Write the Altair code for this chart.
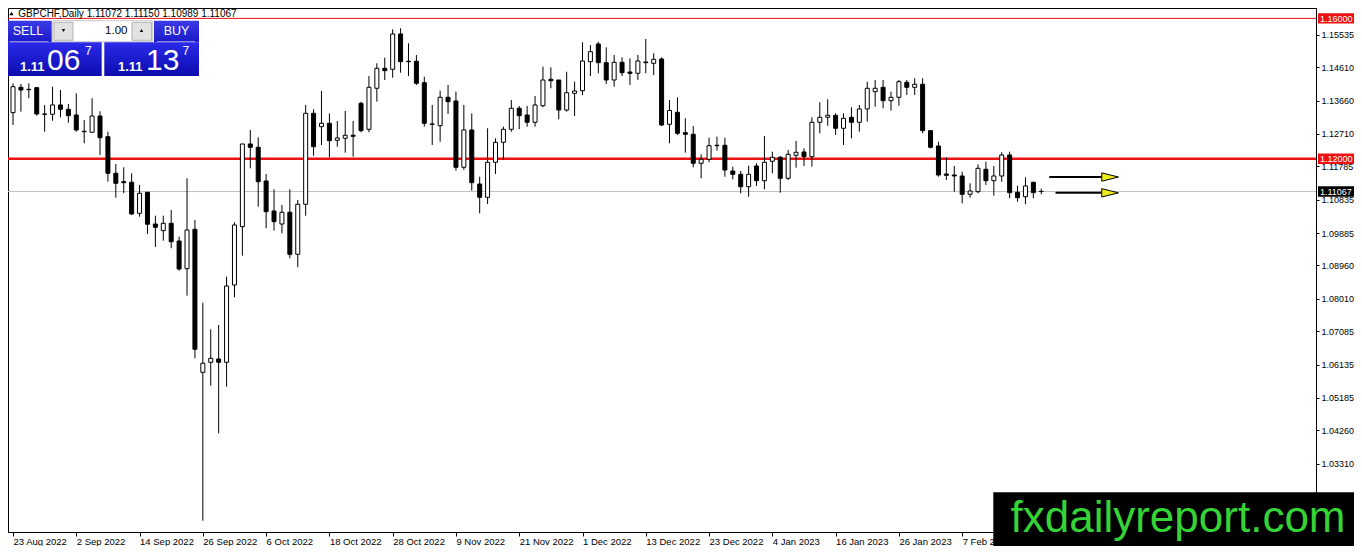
import altair as alt
import pandas as pd

# ---------------- data ----------------
DATE_LABELS = ["23 Aug 2022", "2 Sep 2022", "14 Sep 2022", "26 Sep 2022", "6 Oct 2022",
               "18 Oct 2022", "28 Oct 2022", "9 Nov 2022", "21 Nov 2022", "1 Dec 2022",
               "13 Dec 2022", "23 Dec 2022", "4 Jan 2023", "16 Jan 2023", "26 Jan 2023",
               "7 Feb 2023"]
TICK_BARS = [0, 8, 16, 24, 32, 40, 48, 56, 64, 72, 80, 88, 96, 104, 112, 120]
PRICE_TICKS = [1.15535, 1.14610, 1.13660, 1.12710, 1.11785, 1.10835, 1.09885, 1.08960,
               1.08010, 1.07085, 1.06135, 1.05185, 1.04260, 1.03310]

OPEN = [1.13313, 1.14037, 1.13980, 1.14026, 1.13276, 1.13268, 1.13533, 1.13410, 1.13248, 1.12783,
        1.12755, 1.13219, 1.12630, 1.11587, 1.11348, 1.11330, 1.10447, 1.11046, 1.10142, 1.09952,
        1.10162, 1.09658, 1.08869, 1.09991, 1.05917, 1.06202, 1.06296, 1.06202, 1.08405, 1.10066,
        1.12422, 1.12328, 1.11368, 1.10513, 1.10142, 1.10476, 1.09279, 1.10704, 1.13296, 1.12915,
        1.13011, 1.12527, 1.12584, 1.12670, 1.13581, 1.12840, 1.14009, 1.14578, 1.14550, 1.15556,
        1.14778, 1.14778, 1.14168, 1.12991, 1.12943, 1.13752, 1.13647, 1.11758, 1.12821, 1.11282,
        1.10903, 1.11900, 1.12470, 1.12840, 1.13439, 1.13248, 1.13040, 1.13513, 1.14265, 1.14245,
        1.13390, 1.13866, 1.13940, 1.14766, 1.15271, 1.14738, 1.14245, 1.14749, 1.14473, 1.14436,
        1.14758, 1.14721, 1.14843, 1.12983, 1.13325, 1.12744, 1.12698, 1.11872, 1.11986, 1.12385,
        1.12385, 1.11652, 1.11558, 1.11205, 1.11795, 1.11376, 1.11929, 1.12043, 1.11444, 1.12100,
        1.12194, 1.12060, 1.13040, 1.13182, 1.13239, 1.12869, 1.13182, 1.13040, 1.13419, 1.13912,
        1.14037, 1.13655, 1.13752, 1.14179, 1.14037, 1.14123, 1.12801, 1.12365, 1.11567, 1.11538,
        1.11510, 1.10989, 1.11063, 1.11701, 1.11376, 1.11510, 1.12108, 1.11046, 1.10920, 1.11330,
        1.11072]
HIGH = [1.14151, 1.14131, 1.14151, 1.14046, 1.13533, 1.14054, 1.13960, 1.13561, 1.13866, 1.13105,
        1.13724, 1.13353, 1.12772, 1.11852, 1.11758, 1.11587, 1.11254, 1.11046, 1.10379, 1.10379,
        1.10541, 1.09781, 1.11444, 1.10256, 1.07900, 1.07142, 1.07265, 1.08641, 1.10191, 1.12422,
        1.12821, 1.12613, 1.11567, 1.11131, 1.10684, 1.11131, 1.10826, 1.13533, 1.13410, 1.13932,
        1.13296, 1.13077, 1.13362, 1.13077, 1.13627, 1.14359, 1.14721, 1.14880, 1.15689, 1.15718,
        1.15291, 1.14957, 1.14339, 1.13533, 1.13940, 1.14103, 1.13912, 1.13533, 1.13296, 1.11490,
        1.12869, 1.12584, 1.12915, 1.13675, 1.13504, 1.13504, 1.13789, 1.14624, 1.14607, 1.14245,
        1.14481, 1.14197, 1.15319, 1.15242, 1.15336, 1.15177, 1.14957, 1.14892, 1.14863, 1.14957,
        1.15413, 1.15006, 1.14892, 1.13675, 1.13752, 1.13154, 1.12934, 1.12128, 1.12601, 1.12630,
        1.12601, 1.11775, 1.11652, 1.11803, 1.11872, 1.12650, 1.12202, 1.12080, 1.12251, 1.12507,
        1.12299, 1.13182, 1.13610, 1.13695, 1.13296, 1.13296, 1.13467, 1.13533, 1.14197, 1.14245,
        1.14245, 1.13912, 1.14245, 1.14245, 1.14293, 1.14293, 1.12801, 1.12487, 1.12043, 1.11795,
        1.11632, 1.11302, 1.11843, 1.11917, 1.11795, 1.12185, 1.12202, 1.11234, 1.11473, 1.11348,
        1.11150]
LOW = [1.12963, 1.13342, 1.13724, 1.13228, 1.12772, 1.13085, 1.13182, 1.13028, 1.12772, 1.12442,
       1.12750, 1.12108, 1.11348, 1.10892, 1.11017, 1.10399, 1.10350, 1.09858, 1.09487, 1.09667,
       1.09450, 1.08812, 1.08100, 1.06316, 1.01689, 1.05536, 1.04179, 1.05507, 1.08054, 1.09239,
       1.11729, 1.10635, 1.10020, 1.09952, 1.09877, 1.09165, 1.08909, 1.10379, 1.12088, 1.12393,
       1.12043, 1.12345, 1.12174, 1.12060, 1.12755, 1.12755, 1.13627, 1.14245, 1.14311, 1.14453,
       1.14359, 1.14103, 1.12915, 1.12393, 1.12487, 1.13276, 1.11661, 1.11681, 1.11091, 1.10447,
       1.10712, 1.11567, 1.11966, 1.12772, 1.12840, 1.12915, 1.12915, 1.13467, 1.14009, 1.13125,
       1.13342, 1.13219, 1.13818, 1.14359, 1.14436, 1.14131, 1.14054, 1.14359, 1.14103, 1.14245,
       1.14436, 1.14388, 1.12934, 1.12442, 1.12678, 1.12174, 1.11758, 1.11444, 1.11900, 1.12231,
       1.11490, 1.11416, 1.11017, 1.10920, 1.11225, 1.11131, 1.11587, 1.11034, 1.11396, 1.11746,
       1.11795, 1.11775, 1.12726, 1.12943, 1.12678, 1.12393, 1.12584, 1.12772, 1.13057, 1.13484,
       1.13439, 1.13370, 1.13513, 1.13818, 1.13818, 1.12726, 1.12299, 1.11490, 1.11396, 1.11063,
       1.10732, 1.10892, 1.11017, 1.11254, 1.10949, 1.11348, 1.10875, 1.10778, 1.10704, 1.10875,
       1.10989]
CLOSE = [1.14054, 1.13960, 1.13969, 1.13276, 1.13268, 1.13533, 1.13410, 1.13228, 1.12821, 1.12772,
         1.13219, 1.12601, 1.11587, 1.11302, 1.11319, 1.10427, 1.11017, 1.10134, 1.10048, 1.10162,
         1.09638, 1.08860, 1.09972, 1.06573, 1.06174, 1.06316, 1.06202, 1.08376, 1.10114, 1.12422,
         1.12328, 1.11348, 1.10493, 1.10208, 1.10476, 1.09279, 1.10704, 1.13296, 1.12345, 1.13011,
         1.12516, 1.12593, 1.12670, 1.12641, 1.12801, 1.14037, 1.14578, 1.14510, 1.15556, 1.14766,
         1.14766, 1.14151, 1.13011, 1.12983, 1.13752, 1.13627, 1.11758, 1.12821, 1.11319, 1.10903,
         1.11900, 1.12470, 1.12840, 1.13439, 1.13228, 1.13040, 1.13533, 1.14245, 1.14225, 1.13390,
         1.13883, 1.13932, 1.14786, 1.15051, 1.14738, 1.14245, 1.14749, 1.14453, 1.14436, 1.14786,
         1.14738, 1.14835, 1.12963, 1.13376, 1.12726, 1.12698, 1.11872, 1.11986, 1.12373, 1.12373,
         1.11681, 1.11558, 1.11205, 1.11558, 1.11376, 1.11900, 1.12043, 1.11444, 1.12128, 1.12185,
         1.12060, 1.13040, 1.13182, 1.13239, 1.12869, 1.13154, 1.13040, 1.13419, 1.14009, 1.14009,
         1.13655, 1.13752, 1.14197, 1.14037, 1.14123, 1.12801, 1.12328, 1.11538, 1.11530, 1.11510,
         1.10989, 1.11083, 1.11729, 1.11376, 1.11510, 1.12108, 1.11034, 1.10892, 1.11225, 1.11034,
         1.11067]

LEVEL_TOP = 1.16000      # thin red line
LEVEL_MID = 1.12000      # thick red line
BID = 1.11067            # grey bid line
ARROW_PRICE = [1.1148, 1.1103]
ARROW_START = [131.0, 131.8]
ARROW_END = 137.6
ARROW_HEAD = 138.7
HEADER = "GBPCHF,Daily  1.11072 1.11150 1.10989 1.11067"

# ---------------- construction ----------------
FONT = "Liberation Sans"
RED = "#ee1111"
W, H = 1308, 524
PAD_R, PAD_B = 38, 14
YMAX = 1.16296
YMIN = 1.01367

def ypix(p):
    return (YMAX - p) / (YMAX - YMIN) * H

df = pd.DataFrame({"i": list(range(len(OPEN))), "o": OPEN, "h": HIGH, "l": LOW, "c": CLOSE})
df["dir"] = ["up" if c >= o else "down" for o, c in zip(OPEN, CLOSE)]

XS = alt.Scale(domain=[0, 164.1], nice=False, zero=False)
YS = alt.Scale(domain=[YMIN, YMAX], nice=False, zero=False)

label_js = "[" + ",".join("'" + s + "'" for s in DATE_LABELS) + "][round(datum.value / 8)]"
XAX = alt.Axis(values=TICK_BARS, labelExpr=label_js, title=None, grid=False, orient="bottom",
               tickSize=4, tickColor="black", domainColor="black", labelColor="black",
               labelFont=FONT, labelFontSize=9.5, labelAlign="left", labelBaseline="top",
               labelPadding=0, labelOverlap=False, labelFlush=False, labelBound=False)
YAX = alt.Axis(values=PRICE_TICKS, format=".5f", orient="right", title=None, grid=False,
               tickSize=3, labelPadding=2, labelAlign="left", labelBaseline="middle",
               labelFont=FONT, labelFontSize=9, labelColor="black", domainColor="black",
               tickColor="black", labelOverlap=False, labelFlush=False)

ONE = pd.DataFrame({"k": [0]})


def box(x, x2, y, y2, fill, **kw):
    return alt.Chart(ONE).mark_rect(fill=fill, **kw).encode(
        x=alt.value(x), x2=alt.value(x2), y=alt.value(y), y2=alt.value(y2))


def txt(s, x, y, size, color="white", align="left", baseline="alphabetic", weight="normal"):
    return alt.Chart(ONE).mark_text(text=s, font=FONT, fontSize=size, color=color, align=align,
                                    baseline=baseline, fontWeight=weight).encode(
        x=alt.value(x), y=alt.value(y))


def hline(x, x2, y, color, width=1):
    return alt.Chart(ONE).mark_rule(color=color, strokeWidth=width).encode(
        x=alt.value(x), x2=alt.value(x2), y=alt.value(y))


def tri(shape, x, y, size, fill="black"):
    return alt.Chart(ONE).mark_point(shape=shape, filled=True, color=fill, size=size, opacity=1).encode(
        x=alt.value(x), y=alt.value(y))


grad_btn = alt.LinearGradient(gradient="linear",
                              stops=[alt.GradientStop(color="#3a3ae6", offset=0),
                                     alt.GradientStop(color="#1a1ac8", offset=1)],
                              x1=0, x2=0, y1=0, y2=1)
grad_px = alt.LinearGradient(gradient="linear",
                             stops=[alt.GradientStop(color="#2a2aea", offset=0),
                                    alt.GradientStop(color="#0c0cae", offset=1)],
                             x1=0, x2=0, y1=0, y2=1)

# level lines
lvl_top = alt.Chart(ONE).mark_rule(color=RED, strokeWidth=1).encode(
    y=alt.Y(datum=LEVEL_TOP, scale=YS, axis=YAX))
lvl_mid = alt.Chart(ONE).mark_rule(color=RED, strokeWidth=2.5).encode(
    y=alt.Y(datum=LEVEL_MID, scale=YS, axis=YAX))
lvl_bid = alt.Chart(ONE).mark_rule(color="#c0c0c0", strokeWidth=1).encode(
    y=alt.Y(datum=BID, scale=YS, axis=YAX))

# candles
wicks = alt.Chart(df).mark_rule(color="black", strokeWidth=1, clip=True).encode(
    x=alt.X("i:Q", scale=XS, axis=XAX),
    y=alt.Y("l:Q", scale=YS, axis=YAX),
    y2="h:Q")
bodies = alt.Chart(df).mark_bar(size=4, stroke="black", strokeWidth=1, clip=True).encode(
    x=alt.X("i:Q", scale=XS, axis=XAX),
    y=alt.Y("o:Q", scale=YS, axis=YAX),
    y2="c:Q",
    fill=alt.Fill("dir:N", scale=alt.Scale(domain=["up", "down"], range=["white", "black"]), legend=None))

# arrows
arr_df = pd.DataFrame({"p": ARROW_PRICE, "x0": ARROW_START, "x1": [ARROW_END] * 2, "xh": [ARROW_HEAD] * 2})
arrow_lines = alt.Chart(arr_df).mark_rule(color="black", strokeWidth=2).encode(
    x=alt.X("x0:Q", scale=XS, axis=XAX), x2="x1:Q", y=alt.Y("p:Q", scale=YS, axis=YAX))
arrow_heads = alt.Chart(arr_df).mark_point(shape="M -1 -0.5 L 1 0 L -1 0.5 Z", size=280, filled=True,
                                           fill="#ecec1a", stroke="black", strokeWidth=1, opacity=1).encode(
    x=alt.X("xh:Q", scale=XS, axis=XAX), y=alt.Y("p:Q", scale=YS, axis=YAX))

layers = [lvl_top, lvl_mid, lvl_bid, wicks, bodies, arrow_lines, arrow_heads]

# header
layers += [tri("triangle-up", 3.5, 5.5, 18), txt(HEADER, 10.3, 5.8, 10, color="black", baseline="middle")]

# one-click trading panel
layers += [
    box(0, 43.7, 12.7, 34.3, grad_btn),
    txt("SELL", 20, 22.5, 12.5, align="center", baseline="middle"),
    hline(1.5, 40.5, 33.7, "#a8a8ec"),
    box(44.7, 144.7, 12.7, 33.7, "white", stroke="#c8c8c8", strokeWidth=1),
    box(46, 65, 14.3, 32.3, "#e2e2e2", stroke="#b4b4b4", strokeWidth=1),
    tri("triangle-down", 55.5, 22.5, 12),
    txt("1.00", 119.5, 22.5, 11.5, color="black", align="right", baseline="middle"),
    box(124, 143.5, 14.3, 32.3, "#e2e2e2", stroke="#b4b4b4", strokeWidth=1),
    tri("triangle-up", 133.5, 22.5, 12),
    box(146, 191, 12.7, 34.3, grad_btn),
    txt("BUY", 168.5, 22.5, 12.5, align="center", baseline="middle"),
    hline(149, 187, 33.7, "#a8a8ec"),
    box(0, 93.7, 34.3, 68, grad_px),
    box(96.3, 191, 34.3, 68, grad_px),
    txt("1.11", 12, 62.5, 13, weight="bold"),
    txt("06", 39, 62, 30),
    txt("7", 77, 47, 12),
    txt("1.11", 110, 62.5, 13, weight="bold"),
    txt("13", 138, 62, 30),
    txt("7", 174.5, 47, 12),
]

# price tags on the right scale
for price, color in [(LEVEL_TOP, RED), (LEVEL_MID, RED), (BID, "black")]:
    yc = ypix(price)
    layers += [box(1310, 1346, yc - 5.2, yc + 5.2, color),
               txt(f"{price:.5f}", 1312, yc + 0.5, 9, baseline="middle")]

# watermark
layers += [box(985.3, W + PAD_R, 484.3, H + PAD_B, "black"),
           txt("fxdailyreport.com", 1002.5, 524.3, 44, color="#35d335")]

chart = alt.layer(*layers).properties(
    width=W, height=H,
    autosize=alt.AutoSizeParams(type="none"),
    padding={"left": 0, "top": 0, "right": PAD_R, "bottom": PAD_B},
    background="white",
).configure_view(stroke="black", strokeWidth=1)

chart.save("out.html", embed_options={"renderer": "svg", "actions": False})
